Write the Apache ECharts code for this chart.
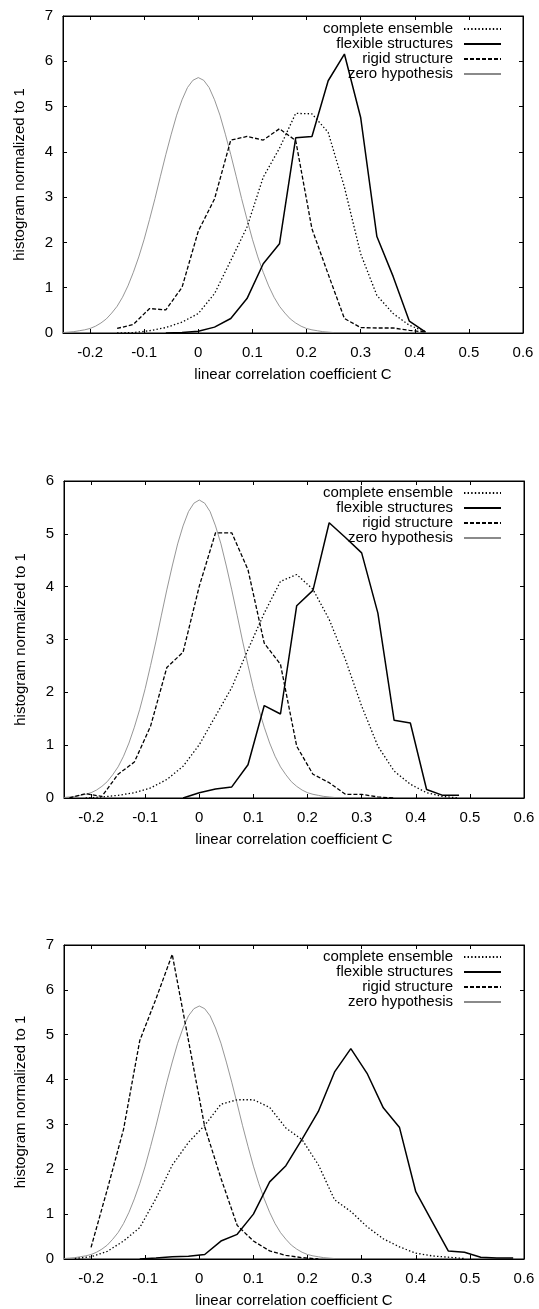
<!DOCTYPE html>
<html><head><meta charset="utf-8">
<script src="https://cdn.jsdelivr.net/npm/echarts@6/dist/echarts.min.js"></script>
<style>html,body{margin:0;padding:0;background:#fff}#c{width:539px;height:1309px}</style>
</head><body><div id="c"></div>
<script>
// ---------- tick labels / names ----------
const xTicks = [-0.2, -0.1, 0, 0.1, 0.2, 0.3, 0.4, 0.5, 0.6];
const yMax = [7, 6, 7];
const seriesNames = ['complete ensemble', 'flexible structures', 'rigid structure', 'zero hypothesis'];
const xTitle = 'linear correlation coefficient C';
const yTitle = 'histogram normalized to 1';

// ---------- zero hypothesis (same in all panels) ----------
const zeroX = [-0.25,-0.24,-0.23,-0.22,-0.21,-0.20,-0.19,-0.18,-0.17,-0.16,-0.15,-0.14,-0.13,-0.12,-0.11,-0.10,-0.09,-0.08,-0.07,-0.06,-0.05,-0.04,-0.03,-0.02,-0.01,
  0,0.01,0.02,0.03,0.04,0.05,0.06,0.07,0.08,0.09,0.10,0.11,0.12,0.13,0.14,0.15,0.16,0.17,0.18,0.19,0.20,0.21,0.22,0.23,0.24,0.25];
const zeroY = [0.01,0.02,0.03,0.05,0.07,0.10,0.15,0.22,0.31,0.44,0.59,0.79,1.04,1.34,1.68,2.07,2.51,2.97,3.46,3.94,4.39,4.81,5.15,5.42,5.58,
  5.64,5.58,5.42,5.15,4.81,4.39,3.94,3.46,2.97,2.51,2.07,1.68,1.34,1.04,0.79,0.59,0.44,0.31,0.22,0.15,0.10,0.07,0.05,0.03,0.02,0.01];

// ---------- panel 1 ----------
const comp1X = [-0.15,-0.12,-0.09,-0.06,-0.03,0,0.03,0.06,0.09,0.12,0.15,0.18,0.21,0.24,0.27,0.30,0.33,0.36,0.39,0.42];
const comp1Y = [0.0,0.01,0.05,0.12,0.24,0.43,0.87,1.60,2.34,3.44,4.08,4.85,4.84,4.43,3.22,1.75,0.83,0.43,0.17,0.03];
const flex1X = [-0.06,-0.03,0,0.03,0.06,0.09,0.12,0.15,0.18,0.21,0.24,0.27,0.30,0.33,0.36,0.39,0.42];
const flex1Y = [0.0,0.01,0.04,0.13,0.32,0.76,1.53,1.97,4.31,4.34,5.57,6.16,4.76,2.13,1.25,0.26,0.02];
const rigid1X = [-0.15,-0.12,-0.09,-0.06,-0.03,0,0.03,0.06,0.09,0.12,0.15,0.18,0.21,0.24,0.27,0.30,0.33,0.36,0.39,0.42];
const rigid1Y = [0.10,0.19,0.54,0.51,1.01,2.25,2.96,4.26,4.34,4.26,4.51,4.25,2.30,1.30,0.32,0.12,0.11,0.11,0.06,0.02];

// ---------- panel 2 ----------
const comp2X = [-0.21,-0.18,-0.15,-0.12,-0.09,-0.06,-0.03,0,0.03,0.06,0.09,0.12,0.15,0.18,0.21,0.24,0.27,0.30,0.33,0.36,0.39,0.42,0.45,0.48];
const comp2Y = [0.0,0.02,0.05,0.10,0.19,0.35,0.60,1.01,1.55,2.09,2.81,3.50,4.10,4.23,3.95,3.38,2.62,1.74,0.98,0.51,0.26,0.10,0.03,0.0];
const flex2X = [-0.03,0,0.03,0.06,0.09,0.12,0.15,0.18,0.21,0.24,0.27,0.30,0.33,0.36,0.39,0.42,0.45,0.48];
const flex2Y = [0.0,0.10,0.17,0.21,0.63,1.75,1.59,3.64,3.93,5.21,4.93,4.64,3.50,1.47,1.42,0.16,0.05,0.05];
const rigid2X = [-0.24,-0.21,-0.18,-0.15,-0.12,-0.09,-0.06,-0.03,0,0.03,0.06,0.09,0.12,0.15,0.18,0.21,0.24,0.27,0.30,0.33,0.36];
const rigid2Y = [0.0,0.08,0.03,0.45,0.68,1.36,2.47,2.76,4.01,5.02,5.02,4.32,2.93,2.53,0.98,0.45,0.29,0.07,0.07,0.02,0.0];

// ---------- panel 3 ----------
const comp3X = [-0.23,-0.20,-0.17,-0.14,-0.11,-0.08,-0.05,-0.02,0.01,0.04,0.07,0.10,0.13,0.16,0.19,0.22,0.25,0.28,0.31,0.34,0.37,0.40,0.43,0.46,0.49];
const comp3Y = [0.01,0.05,0.17,0.40,0.70,1.35,2.09,2.60,2.98,3.45,3.55,3.55,3.38,2.92,2.66,2.10,1.32,1.06,0.72,0.45,0.27,0.13,0.07,0.04,0.01];
const flex3X = [-0.11,-0.08,-0.05,-0.02,0.01,0.04,0.07,0.10,0.13,0.16,0.19,0.22,0.25,0.28,0.31,0.34,0.37,0.40,0.43,0.46,0.49,0.52,0.55,0.58];
const flex3Y = [0.0,0.02,0.05,0.06,0.10,0.40,0.55,1.00,1.72,2.08,2.67,3.29,4.17,4.69,4.14,3.37,2.93,1.50,0.84,0.18,0.15,0.04,0.02,0.02];
const rigid3X = [-0.20,-0.17,-0.14,-0.11,-0.08,-0.05,-0.02,0.01,0.04,0.07,0.10,0.13,0.16,0.19,0.22];
const rigid3Y = [0.26,1.55,2.89,4.87,5.80,6.79,4.87,2.95,1.80,0.75,0.40,0.18,0.08,0.03,0.0];

const panelData = [
  [[comp1X, comp1Y], [flex1X, flex1Y], [rigid1X, rigid1Y], [zeroX, zeroY]],
  [[comp2X, comp2Y], [flex2X, flex2Y], [rigid2X, rigid2Y], [zeroX, zeroY]],
  [[comp3X, comp3Y], [flex3X, flex3Y], [rigid3X, rigid3Y], [zeroX, zeroY]]
];

// ---------- layout & styles ----------
const FONT = 'Liberation Sans, Arial, Helvetica, sans-serif';
const grids = [
  {left: 63, top: 16, width: 460, height: 317},
  {left: 64, top: 481, width: 460, height: 317},
  {left: 64, top: 945, width: 460, height: 319}
];
const legendTops = [21.5, 485.5, 949.5];
const lineStyles = [
  {color: '#000', width: 1.3, type: [1.4, 2.2]},
  {color: '#000', width: 1.5, type: 'solid'},
  {color: '#000', width: 1.3, type: [4, 2]},
  {color: '#8a8a8a', width: 0.9, type: 'solid'}
];
const zs = [3, 4, 3, 2];

const pair = (xs, ys) => xs.map((x, i) => [x, ys[i]]);

const option = {
  animation: false,
  backgroundColor: '#fff',
  grid: grids.map(g => Object.assign({show: true, borderColor: '#000', borderWidth: 1, backgroundColor: 'transparent'}, g)),
  xAxis: [], yAxis: [], series: [], legend: []
};

grids.forEach((g, p) => {
  option.xAxis.push({
    type: 'value', gridIndex: p, min: -0.25, max: 0.6, position: 'bottom',
    name: xTitle, nameLocation: 'middle', nameGap: 34,
    nameTextStyle: {color: '#000', fontSize: 15, fontFamily: FONT},
    axisLine: {show: true, onZero: false, lineStyle: {color: '#000', width: 1}},
    axisTick: {show: true, inside: true, length: 4, lineStyle: {color: '#000'}, customValues: xTicks},
    axisLabel: {show: true, color: '#000', fontSize: 15, fontFamily: FONT, margin: 12, customValues: xTicks},
    splitLine: {show: false}
  });
  option.xAxis.push({
    type: 'value', gridIndex: p, min: -0.25, max: 0.6, position: 'top',
    axisLine: {show: true, onZero: false, lineStyle: {color: '#000', width: 1}},
    axisTick: {show: true, inside: true, length: 4, lineStyle: {color: '#000'}, customValues: xTicks},
    axisLabel: {show: false, customValues: xTicks},
    splitLine: {show: false}
  });
  option.yAxis.push({
    type: 'value', gridIndex: p, min: 0, max: yMax[p], interval: 1, position: 'left',
    name: yTitle, nameLocation: 'middle', nameGap: 36, nameRotate: 90,
    nameTextStyle: {color: '#000', fontSize: 15, fontFamily: FONT},
    axisLine: {show: true, onZero: false, lineStyle: {color: '#000', width: 1}},
    axisTick: {show: true, inside: true, length: 4, lineStyle: {color: '#000'}},
    axisLabel: {show: true, color: '#000', fontSize: 15, fontFamily: FONT, margin: 10},
    splitLine: {show: false}
  });
  option.yAxis.push({
    type: 'value', gridIndex: p, min: 0, max: yMax[p], interval: 1, position: 'right',
    axisLine: {show: true, onZero: false, lineStyle: {color: '#000', width: 1}},
    axisTick: {show: true, inside: true, length: 4, lineStyle: {color: '#000'}},
    axisLabel: {show: false},
    splitLine: {show: false}
  });
  panelData[p].forEach((d, s) => {
    option.series.push({
      type: 'line', name: seriesNames[s], xAxisIndex: p * 2, yAxisIndex: p * 2,
      data: pair(d[0], d[1]), symbol: 'none', smooth: false, z: zs[s],
      lineStyle: Object.assign({}, lineStyles[s]), itemStyle: {color: lineStyles[s].color},
      emphasis: {disabled: true}, silent: true
    });
  });
  option.legend.push({
    data: seriesNames, orient: 'vertical', align: 'right', right: 37, top: legendTops[p],
    padding: 0, itemGap: 0, itemWidth: 37, itemHeight: 15, selectedMode: false,
    itemStyle: {opacity: 0, color: 'rgba(0,0,0,0)', borderColor: 'rgba(0,0,0,0)', borderWidth: 0},
    textStyle: {color: '#000', fontSize: 15, fontFamily: FONT, lineHeight: 15, padding: [0, 6, 0, 0]},
    inactiveColor: '#000'
  });
});

const chart = echarts.init(document.getElementById('c'), null, {renderer: 'canvas'});
chart.setOption(option);
</script>
</body></html>
